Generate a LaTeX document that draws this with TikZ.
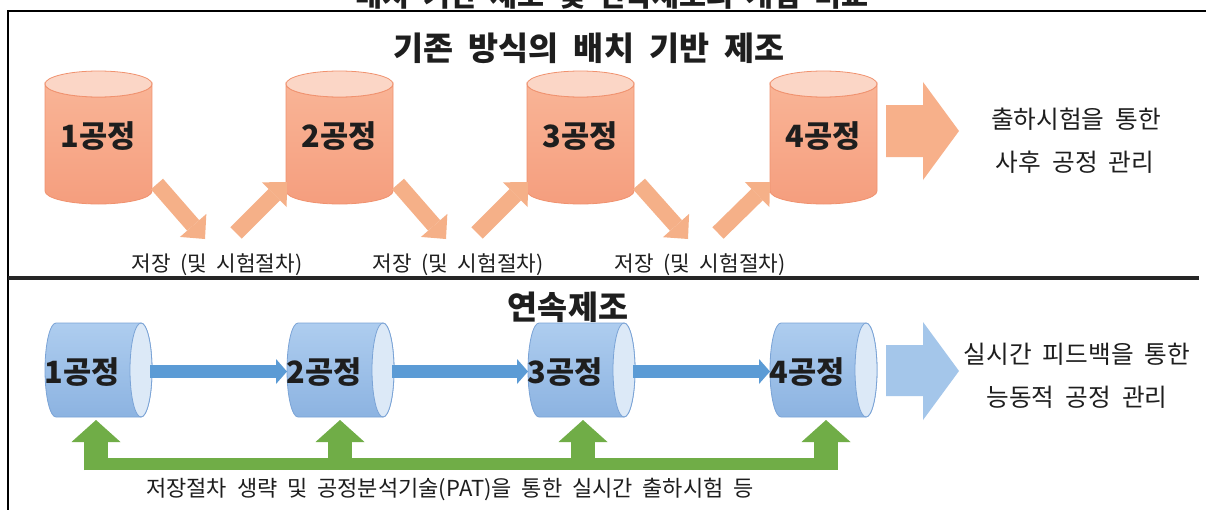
\documentclass[tikz,border=0pt]{standalone}
\usepackage{fontspec}
\setmainfont{Noto Sans CJK KR}[WordSpace=2]
\usetikzlibrary{arrows.meta}
\definecolor{oBodyT}{HTML}{F9B496}
\definecolor{oBodyB}{HTML}{F59E7E}
\definecolor{oTop}{HTML}{FBD6C6}
\definecolor{oLine}{HTML}{F0926F}
\definecolor{oArr}{HTML}{F5B088}
\definecolor{oBig}{HTML}{F7B08A}
\definecolor{bBodyT}{HTML}{AECDEF}
\definecolor{bBodyB}{HTML}{8CB3E1}
\definecolor{bFace}{HTML}{DCE9F7}
\definecolor{bLine}{HTML}{7AA3D6}
\definecolor{bArr}{HTML}{5B9BD5}
\definecolor{bBig}{HTML}{A4C6EA}
\definecolor{gArr}{HTML}{70AD47}
\definecolor{txt}{HTML}{1E1E1E}
\tikzset{
  frame/.style={draw=black, line width=1.5pt},
  sepline/.style={draw=black!85, line width=2.6pt},
  obody/.style={top color=oBodyT, bottom color=oBodyB, draw=oLine, line width=0.6pt},
  otop/.style={fill=oTop, draw=oLine, line width=0.6pt},
  bbody/.style={top color=bBodyT, bottom color=bBodyB, draw=bLine, line width=0.6pt},
  bface/.style={fill=bFace, draw=bLine, line width=0.6pt},
  oarrow/.style={draw=oArr, line width=12pt, -{Triangle[width=26.25pt,length=13.5pt,line width=0pt]}},
  barrow/.style={draw=bArr, line width=9.75pt, -{Triangle[width=18.75pt,length=8.25pt,line width=0pt]}},
  garrow/.style={draw=gArr, line width=18pt, -{Triangle[width=36.75pt,length=16.5pt,line width=0pt]}},
  gbar/.style={fill=gArr},
  obig/.style={fill=oBig},
  bbig/.style={fill=bBig},
  lbl/.style={font=\bfseries\fontsize{23}{26}\selectfont, text=txt, inner sep=0pt},
  htxt/.style={font=\bfseries\fontsize{24.5}{28}\selectfont, text=txt, inner sep=0pt},
  ttxt/.style={font=\bfseries\fontsize{22}{25}\selectfont, text=txt, inner sep=0pt},
  rtxt/.style={font=\fontsize{18.5}{22}\selectfont, text=txt, inner sep=0pt},
  stxt/.style={font=\fontsize{16}{19}\selectfont, text=txt, inner sep=0pt},
  ftxt/.style={font=\fontsize{16.5}{19}\selectfont, text=txt, inner sep=0pt},
}
\begin{document}
\begin{tikzpicture}[x=0.75pt,y=-0.75pt]
\useasboundingbox (0,0) rectangle (1206,510);
\clip (0,0) rectangle (1206,510);
\fill[white] (0,0) rectangle (1206,510);
% title, cut by the top edge as in the reference
\node[ttxt, anchor=base] (title) at (612,7) {배치 기반 제조 및 연속제조의 개념 비교};
% frame
\draw[frame] (1206,11) -- (8,11) -- (8,510);
\draw[sepline] (8,278) -- (1199,278);

% ---------- top: batch ----------
\node[htxt] (h1) at (589,48) {기존 방식의 배치 기반 제조};
\foreach \i/\cx in {1/98.5,2/339.5,3/580.5,4/823.5}{
  \path[obody] (\cx-53.5,84) -- (\cx-53.5,191)
     arc[start angle=180,end angle=0,x radius=53.5,y radius=13]
     -- (\cx+53.5,84)
     arc[start angle=0,end angle=180,x radius=53.5,y radius=13] -- cycle;
  \path[otop] (\cx,84) ellipse[x radius=53.5,y radius=13];
  \node[lbl] (o\i) at (\cx,136) {\i{}공정};
}
% storage diagonal arrows
\coordinate (d1s) at (157,184); \coordinate (d1e) at (205,239);
\coordinate (d2s) at (398,184); \coordinate (d2e) at (446,239);
\coordinate (d3s) at (639,184); \coordinate (d3e) at (688,239);
\coordinate (u1s) at (236,233); \coordinate (u1e) at (287,182);
\coordinate (u2s) at (477,233); \coordinate (u2e) at (528,182);
\coordinate (u3s) at (718,233); \coordinate (u3e) at (770,182);
\draw[oarrow] (d1s) -- (d1e);
\draw[oarrow] (d2s) -- (d2e);
\draw[oarrow] (d3s) -- (d3e);
\draw[oarrow] (u1s) -- (u1e);
\draw[oarrow] (u2s) -- (u2e);
\draw[oarrow] (u3s) -- (u3e);
\node[stxt] (s1) at (217,265) {저장 (및 시험절차)};
\node[stxt] (s2) at (458,265) {저장 (및 시험절차)};
\node[stxt] (s3) at (700,265) {저장 (및 시험절차)};
% big arrow + text
\path[obig] (886,105) -- (923,105) -- (923,82) -- (959,131) -- (923,180) -- (923,157) -- (886,157) -- cycle;
\node[rtxt] (r1) at (1076,119) {출하시험을 통한};
\node[rtxt] (r2) at (1075,162) {사후 공정 관리};

% ---------- bottom: continuous ----------
\node[htxt] (h2) at (568,307) {연속제조};
\foreach \i/\lx in {1/45,2/287,3/528,4/770}{
  \path[bbody] (\lx+11,323) arc[start angle=270,end angle=90,x radius=11,y radius=47]
     -- (\lx+96,417) arc[start angle=90,end angle=-90,x radius=11,y radius=47] -- cycle;
  \path[bface] (\lx+96,370) ellipse[x radius=11,y radius=47];
  \node[lbl] (b\i) at (\lx+37,372) {\i{}공정};
}
\coordinate (c1s) at (150,371.5); \coordinate (c1e) at (287,371.5);
\coordinate (c2s) at (392,371.5); \coordinate (c2e) at (528,371.5);
\coordinate (c3s) at (633,371.5); \coordinate (c3e) at (770,371.5);
\draw[barrow] (c1s) -- (c1e);
\draw[barrow] (c2s) -- (c2e);
\draw[barrow] (c3s) -- (c3e);
% green feedback
\path[gbar] (84,458) rectangle (838,470);
\coordinate (g1s) at (96,470);  \coordinate (g1e) at (96,420);
\coordinate (g2s) at (340,470); \coordinate (g2e) at (340,420);
\coordinate (g3s) at (583,470); \coordinate (g3e) at (583,420);
\coordinate (g4s) at (826,470); \coordinate (g4e) at (826,420);
\draw[garrow] (g1s) -- (g1e);
\draw[garrow] (g2s) -- (g2e);
\draw[garrow] (g3s) -- (g3e);
\draw[garrow] (g4s) -- (g4e);
\node[ftxt] (ft) at (450,489) {저장절차 생략 및 공정분석기술(PAT)을 통한 실시간 출하시험 등};
% big arrow + text
\path[bbig] (886,345) -- (923,345) -- (923,322) -- (959,371) -- (923,420) -- (923,396) -- (886,396) -- cycle;
\node[rtxt] (r3) at (1077,354) {실시간 피드백을 통한};
\node[rtxt] (r4) at (1077,397) {능동적 공정 관리};
\end{tikzpicture}
\end{document}
